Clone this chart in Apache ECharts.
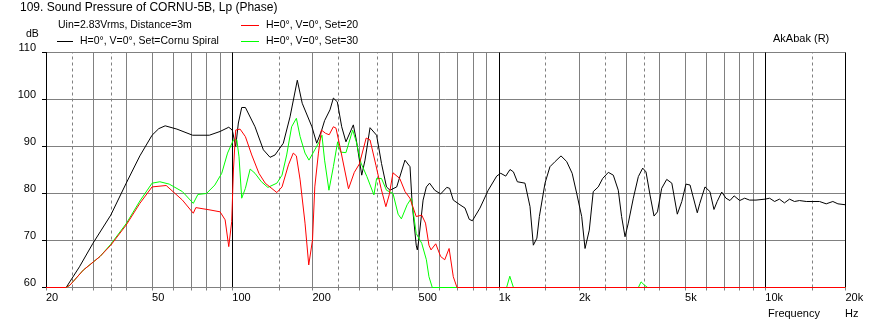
<!DOCTYPE html>
<html><head><meta charset="utf-8">
<script src="https://cdn.jsdelivr.net/npm/echarts@6/dist/echarts.min.js"></script>
<style>html,body{margin:0;padding:0;background:#fff}#c{width:872px;height:326px}</style>
</head><body><div id="c"></div>
<script>
const FONT_FAMILY = '"Liberation Sans", Arial, sans-serif';

const cornuSpiral = [[20,60],[23.8,60],[26.7,64.4],[30,69.4],[35,75.4],[40,82.2],[45,88.0],[50,92.4],[53,93.8],[56,94.4],[62,93.7],[71,92.4],[82,92.4],[90,93.2],[97,94.1],[100,93.5],[103,90.0],[105.4,95],[108.5,98.3],[112,98.3],[121.7,94.2],[130.8,89.3],[138.6,87.7],[144.7,88.2],[155.4,90.7],[164.7,96.3],[175.4,104.1],[183,99.2],[199,94.2],[207.4,90.7],[216.6,93.5],[222,95.5],[232.6,97.8],[239.5,100.3],[247.8,99.5],[257.4,94.2],[267,91.0],[284.6,94.6],[292,91.4],[306,83.9],[314.8,87.1],[328.8,94.0],[348,92.4],[363,86.4],[379,81.4],[390.6,80.7],[414,81.4],[444.6,87.1],[464.5,85.7],[473,77.9],[490,69.0],[494.6,68.0],[500,69.7],[520,78.6],[535,81.4],[550,82.2],[575,80.7],[605,79.9],[638,81.3],[654,81.1],[675,78.6],[715,77.6],[747,76.9],[775,74.5],[796,74.2],[850,76.9],[913,80.7],[982,83.7],[1017,84.3],[1062,83.7],[1102,85.1],[1135,84.6],[1174,82.5],[1254,82.2],[1310,77.2],[1348,69.0],[1390,70.5],[1420,75.1],[1491,82.2],[1556,85.7],[1627,86.8],[1712,88.0],[1798,86.8],[1885,84.3],[1961,80.0],[2047,75.1],[2107,68.3],[2186,72.2],[2262,80.4],[2362,81.4],[2454,83.2],[2577,84.5],[2690,83.9],[2808,80.7],[2890,75.1],[2977,70.8],[3062,73.7],[3198,79.0],[3340,83.6],[3468,85.4],[3568,84.6],[3694,79.7],[3824,75.2],[3940,76.1],[4086,81.1],[4268,83.0],[4460,82.2],[4676,75.6],[4862,78.3],[5040,82.0],[5220,81.8],[5558,75.9],[5680,77.9],[5940,81.4],[6200,80.4],[6420,76.6],[6600,78.3],[6864,80.3],[7120,79.0],[7370,78.5],[7640,79.5],[8020,78.5],[8370,79.0],[8730,78.6],[9230,78.6],[10000,78.8],[10380,79.0],[10840,78.3],[11300,78.8],[11800,78.0],[12330,78.8],[12870,78.3],[13440,78.5],[14250,78.3],[15090,78.3],[15980,78.3],[16930,77.8],[17930,78.3],[18730,77.8],[20000,77.6]];

const set20 = [[20,60],[23.8,60],[24.6,60.5],[27.6,63.7],[31.9,66.6],[35,69.0],[40,73.3],[45,77.9],[50,81.4],[56.5,81.7],[65,78.6],[71.4,75.8],[73,77.0],[82.5,76.5],[90,76.1],[94,74.4],[97,68.7],[99.5,74],[101,85.0],[103,93.5],[107,93.7],[112,92.1],[118.3,88.2],[125.9,84.3],[132.9,82.2],[147,80.2],[153.7,81.4],[162.5,86.1],[169.4,88.6],[174,88.0],[179.7,82.9],[187.5,73.7],[193.6,64.8],[200,70.1],[204,81.4],[210.5,88.6],[216,93.5],[224,92.8],[231,92.5],[239.5,94.2],[245,93.9],[253.5,90.0],[273,81.0],[287,84.5],[300,86.3],[318,91.8],[328.8,91.4],[346,86.0],[362,81.0],[377,77.2],[388,79.7],[401,84.4],[425,83.2],[445,80.4],[464,79.0],[490,75.1],[514,75.4],[531,73.7],[547,69.0],[557,68.0],[580,69.3],[605,66.6],[627,65.9],[651,68.3],[675,62.3],[697,60],[20000,60]];

const set30 = [[20,60],[23.8,60],[24.6,60.5],[27.6,63.7],[31.9,66.6],[35,69.2],[40,73.6],[45,78.4],[50,82.2],[53.5,82.5],[58,82.0],[65,80.4],[71.4,77.9],[74.3,79.8],[80,80.0],[86,81.8],[91.3,84.3],[96,88.6],[101,91.4],[104,91.4],[106,87.8],[108.5,79.0],[112,81.1],[116.7,85.2],[121.7,84.3],[128.6,82.5],[136,81.3],[147,82.2],[153.7,83.9],[160,88.2],[167,94.2],[174,96.0],[179.7,92.1],[187.5,88.6],[194,87.1],[204,89.3],[212,91.0],[217,92.4],[222,87.1],[230.5,80.7],[239.5,85.7],[248.5,91.0],[255,88.8],[267,88.7],[283,93.5],[292,91.0],[304,86.5],[320,83.6],[340,79.7],[348,83.2],[363,83.2],[379,80.7],[401,80.0],[419,75.6],[431,74.6],[453,77.6],[470,79.0],[490,71.5],[514,69.4],[535,65.9],[547,62.3],[563,60],[1070,60],[1100,62.4],[1135,60],[3340,60],[3420,61.2],[3520,60.5],[3620,60],[20000,60]];

const yTickValues = [60,70,80,90,100,110];
const xLabelValues = [20,50,100,200,500,1000,2000,5000,10000,20000];
const xLabelTexts = ['20','50','100','200','500','1k','2k','5k','10k','20k'];
const solidGrid = [30,40,50,60,70,80,90,200,300,400,500,600,700,800,900,2000,3000,4000,5000,6000,7000,8000,9000];
const dashedGrid = [25,35,150,250,350,1500,2500,3500,15000];
const decadeGrid = [100,1000,10000,20000];
const seriesNames = ['H=0°, V=0°, Set=Cornu Spiral','H=0°, V=0°, Set=20','H=0°, V=0°, Set=30'];
const seriesColors = ['#000000','#ff0000','#00ff00'];

const allTicks = [20].concat(solidGrid, dashedGrid, decadeGrid).sort((a,b)=>a-b);
const labelMap = {};
xLabelValues.forEach((v,i)=>{ labelMap[v] = xLabelTexts[i]; });

function gridSeries(values, color, type, axisKey) {
  return {
    type: 'line', data: [], silent: true, z: 1, zlevel: 0, animation: false,
    markLine: {
      silent: true, symbol: ['none','none'], animation: false,
      label: { show: false },
      lineStyle: { color: color, width: 1, type: type },
      emphasis: { disabled: true },
      data: values.map(v => ({ [axisKey || 'xAxis']: v }))
    }
  };
}

function txt(text, x, y, size) {
  return { type: 'text', x: x, y: y, silent: true, z: 10,
    style: { text: text, fill: '#000', font: (size || 10.5) + 'px ' + FONT_FAMILY, align: 'left', verticalAlign: 'middle' } };
}
function seg(x1, x2, y, color) {
  return { type: 'line', silent: true, z: 10, shape: { x1: x1, y1: y, x2: x2, y2: y }, style: { stroke: color, lineWidth: 1 } };
}

function dataSeries(idx, data, z) {
  return { name: seriesNames[idx], type: 'line', data: data, showSymbol: false, symbol: 'none',
    zlevel: 1, z: z, clip: false, silent: true,
    lineStyle: { color: seriesColors[idx], width: 1 }, itemStyle: { color: seriesColors[idx] } };
}

const chart = echarts.init(document.getElementById('c'), null, { renderer: 'canvas' });
chart.setOption({
  animation: false,
  backgroundColor: '#ffffff',
  textStyle: { fontFamily: FONT_FAMILY },
  grid: { left: 46, right: 26.5, top: 52.5, bottom: 38.5, containLabel: false },
  xAxis: {
    type: 'log', logBase: 10, min: 20, max: 20000,
    axisLine: { show: false, onZero: false },
    axisTick: { show: true, length: 3, customValues: allTicks, lineStyle: { color: '#808080' } },
    splitLine: { show: false },
    minorTick: { show: false }, minorSplitLine: { show: false },
    axisLabel: {
      show: true, customValues: xLabelValues, align: 'left', margin: 5,
      color: '#000', fontSize: 11, fontFamily: FONT_FAMILY,
      formatter: v => labelMap[v] !== undefined ? labelMap[v] : ''
    }
  },
  yAxis: {
    type: 'value', min: 60, max: 110, interval: 10,
    axisLine: { show: true, lineStyle: { color: '#000', width: 1 } },
    axisTick: { show: true, length: 4, lineStyle: { color: '#000' } },
    splitLine: { show: true, showMinLine: false, lineStyle: { color: '#808080', width: 1 } },
    axisLabel: { show: true, margin: 10, color: '#000', fontSize: 11, fontFamily: FONT_FAMILY, verticalAlign: 'bottom', lineHeight: 9 }
  },
  series: [
    gridSeries(solidGrid, '#808080', 'solid'),
    gridSeries(dashedGrid, '#808080', [3,3]),
    gridSeries(decadeGrid, '#000000', 'solid'),
    gridSeries([yTickValues[0]], '#808080', 'solid', 'yAxis'),
    dataSeries(0, cornuSpiral, 3),
    dataSeries(2, set30, 4),
    dataSeries(1, set20, 5)
  ],
  graphic: [
    txt('109. Sound Pressure of CORNU-5B, Lp (Phase)', 20, 7.5, 12),
    txt('Uin=2.83Vrms, Distance=3m', 58, 25),
    txt('dB', 26, 34),
    seg(57, 73, 41.5, seriesColors[0]),
    txt(seriesNames[0], 80, 41.5),
    seg(241, 259, 25.5, seriesColors[1]),
    txt(seriesNames[1], 266, 25),
    seg(241, 259, 41.5, seriesColors[2]),
    txt(seriesNames[2], 266, 41.5),
    txt('AkAbak (R)', 773, 38.5, 11),
    txt('Frequency', 768, 314, 11),
    txt('Hz', 845, 314, 11)
  ]
});
</script>
</body></html>
